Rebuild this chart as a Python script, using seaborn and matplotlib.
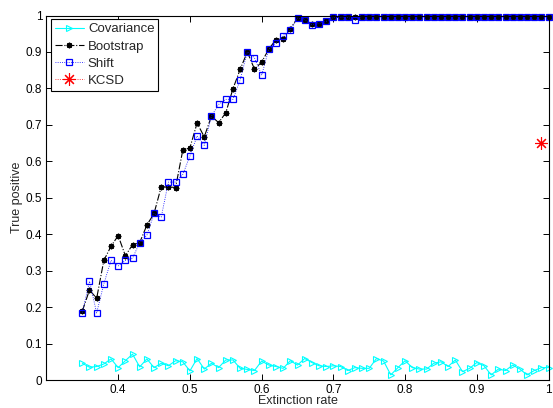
import numpy as np
import pandas as pd
import matplotlib
matplotlib.use("Agg")
import matplotlib.pyplot as plt
import seaborn as sns

rates = [0.35, 0.36, 0.37, 0.38, 0.39, 0.40, 0.41, 0.42, 0.43, 0.44,
         0.45, 0.46, 0.47, 0.48, 0.49, 0.50, 0.51, 0.52, 0.53, 0.54,
         0.55, 0.56, 0.57, 0.58, 0.59, 0.60, 0.61, 0.62, 0.63, 0.64,
         0.65, 0.66, 0.67, 0.68, 0.69, 0.70, 0.71, 0.72, 0.73, 0.74,
         0.75, 0.76, 0.77, 0.78, 0.79, 0.80, 0.81, 0.82, 0.83, 0.84,
         0.85, 0.86, 0.87, 0.88, 0.89, 0.90, 0.91, 0.92, 0.93, 0.94,
         0.95, 0.96, 0.97, 0.98, 0.99, 1.00]

covariance = [0.046, 0.035, 0.037, 0.044, 0.058, 0.034, 0.053, 0.071, 0.036, 0.058,
              0.034, 0.046, 0.039, 0.053, 0.050, 0.025, 0.059, 0.030, 0.046, 0.034,
              0.055, 0.055, 0.032, 0.029, 0.026, 0.052, 0.041, 0.037, 0.032, 0.053,
              0.041, 0.059, 0.048, 0.039, 0.037, 0.039, 0.037, 0.026, 0.034, 0.032,
              0.032, 0.059, 0.052, 0.014, 0.034, 0.053, 0.034, 0.030, 0.030, 0.046,
              0.050, 0.037, 0.055, 0.023, 0.032, 0.048, 0.039, 0.014, 0.030, 0.026,
              0.041, 0.030, 0.014, 0.026, 0.034, 0.034]

bootstrap = [0.189, 0.247, 0.224, 0.328, 0.367, 0.396, 0.341, 0.371, 0.377, 0.425,
             0.457, 0.530, 0.530, 0.528, 0.630, 0.637, 0.705, 0.667, 0.724, 0.706,
             0.733, 0.799, 0.852, 0.900, 0.853, 0.872, 0.908, 0.934, 0.936, 0.964,
             0.993, 0.988, 0.977, 0.976, 0.984, 0.995, 0.995, 0.995, 0.995, 0.997,
             0.997, 0.997, 0.997, 0.997, 0.997, 0.997, 0.997, 0.997, 0.997, 0.997,
             0.997, 0.997, 0.997, 0.997, 0.997, 0.997, 0.997, 0.997, 0.997, 0.997,
             0.997, 0.997, 0.997, 0.997, 0.997, 0.997]

shift = [0.185, 0.271, 0.184, 0.264, 0.328, 0.313, 0.328, 0.334, 0.377, 0.397,
         0.457, 0.447, 0.543, 0.543, 0.564, 0.614, 0.670, 0.644, 0.724, 0.756,
         0.770, 0.770, 0.823, 0.900, 0.884, 0.836, 0.908, 0.925, 0.945, 0.960,
         0.993, 0.988, 0.975, 0.978, 0.984, 0.995, 0.995, 0.995, 0.988, 0.997,
         0.997, 0.997, 0.997, 0.997, 0.997, 0.997, 0.997, 0.997, 0.997, 0.997,
         0.997, 0.997, 0.997, 0.997, 0.997, 0.997, 0.997, 0.997, 0.997, 0.997,
         0.997, 0.997, 0.997, 0.997, 0.997, 0.997]

kcsd_rate = [0.99]
kcsd_value = [0.65]

x_ticks = [0.4, 0.5, 0.6, 0.7, 0.8, 0.9, 1.0]
x_tick_labels = ["0.4", "0.5", "0.6", "0.7", "0.8", "0.9", "1"]
y_ticks = [0.0, 0.1, 0.2, 0.3, 0.4, 0.5, 0.6, 0.7, 0.8, 0.9, 1.0]
y_tick_labels = ["0", "0.1", "0.2", "0.3", "0.4", "0.5", "0.6", "0.7", "0.8", "0.9", "1"]

sns.set_theme(style="white")
plt.rcParams["font.family"] = ["Liberation Sans", "DejaVu Sans"]

df = pd.DataFrame({"rate": rates, "Covariance": covariance,
                   "Bootstrap": bootstrap, "Shift": shift})
kdf = pd.DataFrame({"rate": kcsd_rate, "KCSD": kcsd_value})

fig = plt.figure(figsize=(5.53, 4.08), dpi=100)
ax = fig.add_axes([0.084, 0.0686, 0.908, 0.8934])

asterisk = (8, 2, 0)

sns.lineplot(data=df, x="rate", y="Covariance", ax=ax, color="#00ffff",
             linestyle="-", linewidth=0.8, marker=">", markersize=5,
             markerfacecolor="none", markeredgecolor="#00ffff",
             markeredgewidth=0.8, label="Covariance")
sns.lineplot(data=df, x="rate", y="Bootstrap", ax=ax, color="black",
             linestyle="-.", linewidth=0.8, marker=asterisk, markersize=4,
             markeredgecolor="black", markeredgewidth=1.0, label="Bootstrap")
sns.lineplot(data=df, x="rate", y="Shift", ax=ax, color="#0000ff",
             linestyle=":", linewidth=0.6, marker="s", markersize=4,
             markerfacecolor="none", markeredgecolor="#0000ff",
             markeredgewidth=0.9, label="Shift")
sns.lineplot(data=kdf, x="rate", y="KCSD", ax=ax, color="#ff0000",
             linestyle=":", linewidth=0.6, marker=asterisk, markersize=9,
             markeredgecolor="#ff0000", markeredgewidth=0.8, label="KCSD")

for l in ax.lines:
    l.set_clip_on(False)

ax.set_xlim(0.3, 1.0)
ax.set_ylim(0, 1)
ax.set_xticks(x_ticks)
ax.set_xticklabels(x_tick_labels)
ax.set_yticks(y_ticks)
ax.set_yticklabels(y_tick_labels)
ax.tick_params(direction="in", length=4, width=0.7, top=True, right=True,
               bottom=True, left=True, labelsize=8.5, colors="black", pad=3)
for s in ax.spines.values():
    s.set_visible(True)
    s.set_color("black")
    s.set_linewidth(0.8)

ax.set_xlabel("Extinction rate", fontsize=9, labelpad=-1)
ax.set_ylabel("True positive", fontsize=9, labelpad=2)

leg = ax.legend(loc="upper left", bbox_to_anchor=(0.009, 0.99), fontsize=9.5,
                frameon=True, fancybox=False, edgecolor="black",
                handlelength=2.2, handletextpad=0.3, borderpad=0.3,
                labelspacing=0.38, borderaxespad=0.0, numpoints=1)
leg.get_frame().set_linewidth(0.8)
leg.get_frame().set_alpha(1)

fig.savefig("out.png", dpi=100)
